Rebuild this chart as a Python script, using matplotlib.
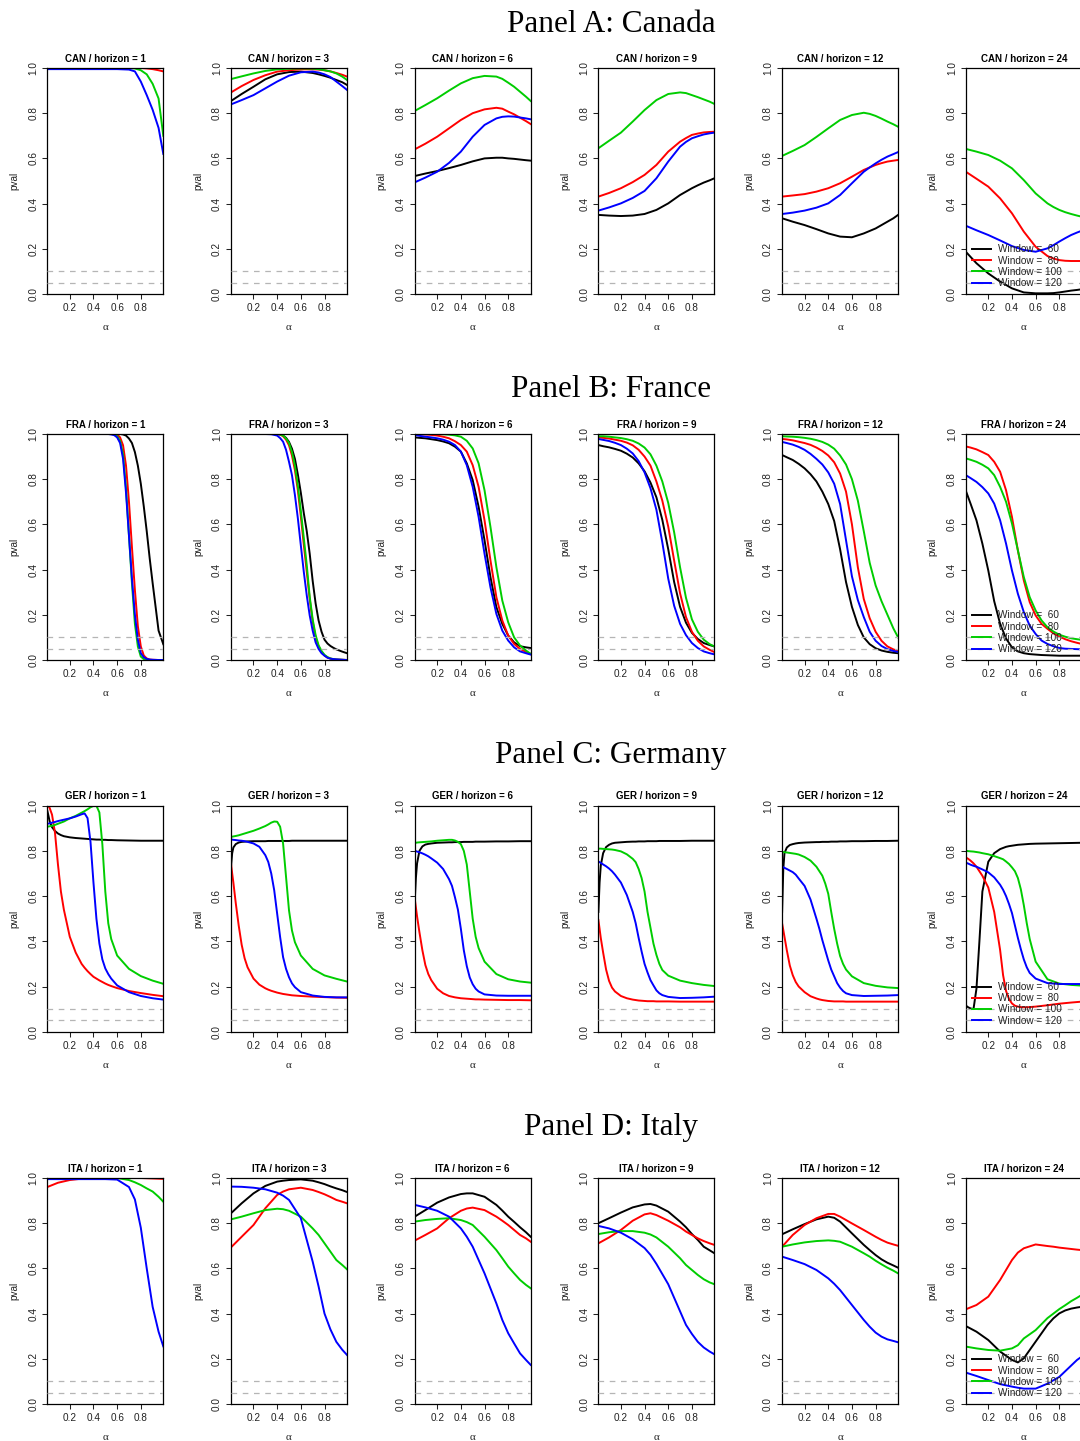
import matplotlib
matplotlib.use("Agg")
import matplotlib.pyplot as plt

# ---------------- data ----------------
WINDOWS = [60, 80, 100, 120]
LEG_LABELS = ["Window =  60", "Window =  80", "Window = 100", "Window = 120"]
HORIZONS = [1, 3, 6, 9, 12, 24]
XTICKS = [0.2, 0.4, 0.6, 0.8]
YTICKS = [0.0, 0.2, 0.4, 0.6, 0.8, 1.0]
YTICK_LABELS = ["0.0", "0.2", "0.4", "0.6", "0.8", "1.0"]
XTICK_LABELS = ["0.2", "0.4", "0.6", "0.8"]

ALPHA_A = [0.01, 0.1, 0.2, 0.3, 0.4, 0.5, 0.6, 0.7, 0.75, 0.8, 0.85, 0.9, 0.95, 0.99]
ALPHA_I = [0.01, 0.1, 0.2, 0.3, 0.4, 0.45, 0.5, 0.6, 0.7, 0.75, 0.8, 0.85, 0.9, 0.95, 0.99]
ALPHA_F = [0.01, 0.1, 0.2, 0.3, 0.35, 0.4, 0.425, 0.45, 0.475, 0.5, 0.525, 0.55, 0.575, 0.6,
           0.625, 0.65, 0.675, 0.7, 0.725, 0.75, 0.775, 0.8, 0.825, 0.85, 0.875, 0.9, 0.95, 0.99]
ALPHA_B = [0.01, 0.05, 0.1, 0.15, 0.2, 0.25, 0.3, 0.35, 0.4, 0.45, 0.5, 0.55, 0.6, 0.65,
           0.7, 0.75, 0.8, 0.85, 0.9, 0.95, 0.99]
ALPHA_G = [0.01, 0.02, 0.03, 0.05, 0.075, 0.1, 0.125, 0.15, 0.2, 0.25, 0.3, 0.325, 0.35,
           0.375, 0.4, 0.425, 0.45, 0.475, 0.5, 0.525, 0.55, 0.6, 0.7, 0.8, 0.9, 0.99]

# ---- Canada (ALPHA_A) : [w60, w80, w100, w120]
CAN_H1 = [
    [1, 1, 1, 1, 1, 1, 1, 1, 1, 1, 1, 1, 1, 1],
    [1, 1, 1, 1, 1, 1, 1, 1, 1, 1, 0.998, 0.995, 0.99, 0.985],
    [1, 1, 1, 1, 1, 1, 1, 1, 0.998, 0.99, 0.972, 0.93, 0.865, 0.70],
    [0.995, 0.995, 0.995, 0.995, 0.995, 0.995, 0.995, 0.993, 0.985, 0.94, 0.88, 0.815, 0.735, 0.62],
]
CAN_H3 = [
    [0.854, 0.885, 0.917, 0.95, 0.972, 0.982, 0.984, 0.978, 0.972, 0.965, 0.957, 0.947, 0.937, 0.925],
    [0.892, 0.92, 0.947, 0.968, 0.984, 0.99, 0.994, 0.994, 0.993, 0.99, 0.985, 0.978, 0.97, 0.962],
    [0.951, 0.963, 0.976, 0.987, 0.994, 0.997, 0.998, 0.997, 0.995, 0.99, 0.985, 0.976, 0.962, 0.947],
    [0.839, 0.858, 0.88, 0.91, 0.94, 0.966, 0.981, 0.984, 0.98, 0.972, 0.96, 0.94, 0.92, 0.903],
]
CAN_H6 = [
    [0.522, 0.533, 0.544, 0.557, 0.571, 0.587, 0.600, 0.603, 0.603, 0.600, 0.598, 0.595, 0.592, 0.590],
    [0.64, 0.665, 0.696, 0.733, 0.77, 0.80, 0.817, 0.824, 0.82, 0.807, 0.795, 0.78, 0.765, 0.752],
    [0.81, 0.836, 0.866, 0.90, 0.932, 0.955, 0.965, 0.962, 0.952, 0.935, 0.917, 0.895, 0.873, 0.854],
    [0.494, 0.515, 0.541, 0.58, 0.63, 0.696, 0.748, 0.777, 0.784, 0.786, 0.785, 0.781, 0.777, 0.773],
]
CAN_H9 = [
    [0.35, 0.347, 0.345, 0.347, 0.354, 0.372, 0.401, 0.438, 0.453, 0.468, 0.481, 0.493, 0.503, 0.512],
    [0.431, 0.447, 0.468, 0.495, 0.527, 0.571, 0.63, 0.674, 0.69, 0.704, 0.71, 0.715, 0.717, 0.718],
    [0.645, 0.678, 0.714, 0.763, 0.814, 0.858, 0.885, 0.892, 0.889, 0.88, 0.871, 0.861, 0.851, 0.841],
    [0.369, 0.383, 0.401, 0.425, 0.456, 0.512, 0.586, 0.652, 0.673, 0.689, 0.698, 0.706, 0.711, 0.714],
]
CAN_H12 = [
    [0.335, 0.32, 0.305, 0.287, 0.268, 0.254, 0.251, 0.268, 0.279, 0.29, 0.305, 0.32, 0.335, 0.35],
    [0.431, 0.436, 0.442, 0.453, 0.468, 0.49, 0.519, 0.549, 0.56, 0.571, 0.579, 0.586, 0.59, 0.593],
    [0.611, 0.633, 0.659, 0.695, 0.733, 0.77, 0.792, 0.802, 0.797, 0.788, 0.776, 0.763, 0.751, 0.74],
    [0.354, 0.36, 0.369, 0.382, 0.401, 0.438, 0.49, 0.541, 0.56, 0.578, 0.594, 0.608, 0.619, 0.628],
]
CAN_H24 = [
    [0.187, 0.136, 0.091, 0.055, 0.025, 0.007, 0.003, 0.003, 0.004, 0.007, 0.011, 0.015, 0.018, 0.021],
    [0.541, 0.51, 0.475, 0.423, 0.357, 0.276, 0.209, 0.168, 0.157, 0.15, 0.147, 0.146, 0.146, 0.146],
    [0.642, 0.63, 0.615, 0.59, 0.556, 0.504, 0.445, 0.401, 0.385, 0.372, 0.362, 0.354, 0.347, 0.342],
    [0.302, 0.282, 0.261, 0.237, 0.212, 0.195, 0.187, 0.202, 0.216, 0.232, 0.247, 0.261, 0.272, 0.28],
]

# ---- France
FRA_H1 = [  # ALPHA_F
    [1] * 14 + [1.0, 0.998, 0.993, 0.98, 0.96, 0.92, 0.86, 0.78, 0.68, 0.57, 0.45, 0.34, 0.13, 0.07],
    [1] * 13 + [0.998, 0.985, 0.95, 0.86, 0.70, 0.50, 0.31, 0.15, 0.06, 0.02, 0.007, 0.002, 0.001, 0.0, 0.0],
    [1] * 12 + [0.998, 0.99, 0.97, 0.91, 0.76, 0.55, 0.34, 0.16, 0.06, 0.015, 0.004, 0.001, 0.0, 0.0, 0.0, 0.0],
    [1] * 11 + [0.998, 0.995, 0.985, 0.96, 0.89, 0.74, 0.55, 0.36, 0.20, 0.09, 0.03, 0.012, 0.005, 0.002, 0.001, 0.0, 0.0],
]
FRA_H3 = [  # ALPHA_F
    [1, 1, 1, 1, 1, 1, 0.998, 0.993, 0.983, 0.965, 0.935, 0.89, 0.82, 0.74, 0.65, 0.57, 0.47, 0.35,
     0.25, 0.175, 0.125, 0.09, 0.073, 0.062, 0.054, 0.047, 0.037, 0.03],
    [1, 1, 1, 1, 1, 1, 0.998, 0.99, 0.975, 0.95, 0.905, 0.84, 0.75, 0.635, 0.51, 0.39, 0.27, 0.17,
     0.10, 0.06, 0.035, 0.02, 0.011, 0.006, 0.003, 0.002, 0.001, 0.0],
    [1, 1, 1, 1, 1, 1, 0.998, 0.993, 0.98, 0.96, 0.92, 0.86, 0.77, 0.66, 0.54, 0.42, 0.28, 0.18,
     0.11, 0.065, 0.04, 0.023, 0.013, 0.007, 0.004, 0.002, 0.001, 0.0],
    [1, 1, 1, 1, 0.999, 0.993, 0.982, 0.966, 0.93, 0.877, 0.818, 0.73, 0.626, 0.507, 0.39, 0.286,
     0.197, 0.13, 0.078, 0.049, 0.03, 0.019, 0.01, 0.006, 0.004, 0.003, 0.001, 0.0],
]
FRA_H6 = [  # ALPHA_B
    [0.985, 0.983, 0.981, 0.977, 0.973, 0.967, 0.959, 0.944, 0.922, 0.87, 0.796, 0.678, 0.53, 0.367,
     0.234, 0.16, 0.108, 0.078, 0.061, 0.056, 0.053],
    [1.0, 0.999, 0.998, 0.996, 0.993, 0.988, 0.981, 0.968, 0.951, 0.922, 0.862, 0.766, 0.618, 0.441,
     0.278, 0.175, 0.108, 0.071, 0.049, 0.036, 0.027],
    [1.0, 1.0, 1.0, 1.0, 1.0, 0.999, 0.997, 0.994, 0.988, 0.97, 0.936, 0.87, 0.751, 0.589, 0.411,
     0.263, 0.167, 0.10, 0.064, 0.042, 0.027],
    [0.996, 0.992, 0.988, 0.985, 0.981, 0.975, 0.966, 0.951, 0.922, 0.862, 0.766, 0.633, 0.47, 0.322,
     0.204, 0.13, 0.086, 0.056, 0.038, 0.03, 0.024],
]
FRA_H9 = [  # ALPHA_B
    [0.951, 0.946, 0.941, 0.934, 0.926, 0.913, 0.896, 0.87, 0.835, 0.785, 0.72, 0.62, 0.49, 0.345,
     0.235, 0.165, 0.12, 0.093, 0.075, 0.066, 0.06],
    [0.985, 0.983, 0.98, 0.975, 0.97, 0.962, 0.95, 0.93, 0.90, 0.86, 0.79, 0.705, 0.59, 0.44,
     0.295, 0.19, 0.125, 0.085, 0.06, 0.045, 0.035],
    [0.99, 0.99, 0.988, 0.985, 0.982, 0.977, 0.97, 0.958, 0.94, 0.91, 0.86, 0.79, 0.695, 0.565,
     0.41, 0.275, 0.18, 0.125, 0.09, 0.07, 0.06],
    [0.978, 0.974, 0.969, 0.961, 0.951, 0.935, 0.914, 0.88, 0.83, 0.76, 0.665, 0.52, 0.36, 0.24,
     0.16, 0.11, 0.075, 0.053, 0.038, 0.03, 0.025],
]
FRA_H12 = [  # ALPHA_B
    [0.907, 0.897, 0.885, 0.868, 0.848, 0.822, 0.79, 0.745, 0.69, 0.615, 0.49, 0.345, 0.235, 0.155,
     0.10, 0.07, 0.052, 0.042, 0.036, 0.032, 0.03],
    [0.978, 0.976, 0.972, 0.966, 0.96, 0.952, 0.94, 0.925, 0.905, 0.875, 0.825, 0.745, 0.60, 0.41,
     0.27, 0.185, 0.125, 0.085, 0.06, 0.047, 0.04],
    [0.99, 0.989, 0.988, 0.986, 0.983, 0.979, 0.973, 0.965, 0.953, 0.935, 0.905, 0.865, 0.80, 0.705,
     0.57, 0.43, 0.33, 0.26, 0.20, 0.14, 0.10],
    [0.965, 0.96, 0.953, 0.943, 0.93, 0.912, 0.89, 0.865, 0.83, 0.78, 0.69, 0.53, 0.37, 0.265,
     0.19, 0.125, 0.085, 0.062, 0.048, 0.04, 0.036],
]
FRA_H24 = [  # ALPHA_B
    [0.749, 0.692, 0.618, 0.515, 0.396, 0.26, 0.16, 0.095, 0.056, 0.038, 0.03, 0.026, 0.024, 0.022,
     0.021, 0.02, 0.019, 0.019, 0.019, 0.019, 0.019],
    [0.945, 0.94, 0.932, 0.92, 0.907, 0.877, 0.833, 0.751, 0.633, 0.485, 0.352, 0.256, 0.197, 0.16,
     0.138, 0.118, 0.104, 0.092, 0.083, 0.076, 0.071],
    [0.892, 0.886, 0.877, 0.864, 0.848, 0.818, 0.766, 0.70, 0.604, 0.485, 0.367, 0.278, 0.219, 0.175,
     0.145, 0.126, 0.112, 0.103, 0.096, 0.092, 0.089],
    [0.818, 0.805, 0.788, 0.765, 0.737, 0.692, 0.618, 0.515, 0.396, 0.293, 0.212, 0.152, 0.115, 0.086,
     0.071, 0.061, 0.053, 0.05, 0.049, 0.048, 0.047],
]

# ---- Germany (ALPHA_G)
GER_H1 = [
    [0.978, 0.955, 0.93, 0.905, 0.888, 0.877, 0.87, 0.865, 0.86, 0.857, 0.855, 0.854, 0.853, 0.852,
     0.851, 0.85, 0.85, 0.849, 0.849, 0.848, 0.848, 0.847, 0.846, 0.845, 0.845, 0.845],
    [1.0, 0.998, 0.99, 0.96, 0.88, 0.74, 0.62, 0.54, 0.42, 0.35, 0.30, 0.283, 0.268, 0.255, 0.243,
     0.235, 0.227, 0.22, 0.213, 0.207, 0.202, 0.193, 0.18, 0.171, 0.163, 0.157],
    [0.907, 0.908, 0.909, 0.911, 0.915, 0.92, 0.925, 0.93, 0.944, 0.955, 0.969, 0.976, 0.984, 0.993,
     0.999, 1.0, 0.97, 0.83, 0.62, 0.48, 0.41, 0.337, 0.278, 0.246, 0.226, 0.212],
    [0.92, 0.921, 0.922, 0.925, 0.928, 0.932, 0.935, 0.938, 0.944, 0.952, 0.962, 0.966, 0.945, 0.84,
     0.66, 0.50, 0.39, 0.32, 0.28, 0.255, 0.235, 0.205, 0.175, 0.158, 0.148, 0.142],
]
GER_H3 = [
    [0.73, 0.79, 0.815, 0.83, 0.837, 0.84, 0.841, 0.842, 0.843, 0.843, 0.843, 0.844, 0.844, 0.844,
     0.844, 0.844, 0.844, 0.844, 0.844, 0.845, 0.845, 0.845, 0.845, 0.845, 0.845, 0.845],
    [0.745, 0.70, 0.66, 0.57, 0.47, 0.385, 0.325, 0.285, 0.235, 0.208, 0.192, 0.186, 0.181, 0.177,
     0.173, 0.17, 0.167, 0.165, 0.163, 0.161, 0.16, 0.158, 0.155, 0.153, 0.151, 0.15],
    [0.862, 0.863, 0.864, 0.866, 0.869, 0.873, 0.877, 0.881, 0.889, 0.899, 0.91, 0.917, 0.925, 0.93,
     0.929, 0.907, 0.833, 0.685, 0.537, 0.448, 0.396, 0.337, 0.278, 0.249, 0.234, 0.222],
    [0.851, 0.85, 0.849, 0.848, 0.846, 0.845, 0.843, 0.84, 0.833, 0.818, 0.781, 0.751, 0.70, 0.626,
     0.522, 0.419, 0.33, 0.278, 0.241, 0.214, 0.197, 0.175, 0.16, 0.154, 0.152, 0.152],
]
GER_H6 = [
    [0.575, 0.68, 0.745, 0.80, 0.82, 0.828, 0.831, 0.833, 0.836, 0.837, 0.838, 0.838, 0.839, 0.839,
     0.839, 0.84, 0.84, 0.84, 0.84, 0.841, 0.841, 0.841, 0.842, 0.842, 0.843, 0.843],
    [0.59, 0.55, 0.51, 0.44, 0.36, 0.295, 0.255, 0.228, 0.19, 0.17, 0.158, 0.155, 0.152, 0.15,
     0.148, 0.147, 0.146, 0.145, 0.144, 0.143, 0.143, 0.142, 0.141, 0.14, 0.14, 0.139],
    [0.836, 0.836, 0.837, 0.838, 0.839, 0.84, 0.841, 0.842, 0.845, 0.847, 0.849, 0.849, 0.846, 0.84,
     0.83, 0.80, 0.74, 0.62, 0.50, 0.42, 0.37, 0.31, 0.255, 0.232, 0.222, 0.217],
    [0.80, 0.799, 0.797, 0.794, 0.789, 0.783, 0.776, 0.767, 0.748, 0.72, 0.675, 0.645, 0.595, 0.54,
     0.455, 0.36, 0.29, 0.24, 0.21, 0.19, 0.178, 0.165, 0.16, 0.159, 0.159, 0.159],
]
GER_H9 = [
    [0.53, 0.66, 0.735, 0.79, 0.817, 0.827, 0.833, 0.836, 0.838, 0.84, 0.841, 0.841, 0.842, 0.842,
     0.842, 0.843, 0.843, 0.843, 0.843, 0.844, 0.844, 0.844, 0.844, 0.845, 0.845, 0.845],
    [0.494, 0.455, 0.415, 0.35, 0.275, 0.225, 0.195, 0.178, 0.158, 0.148, 0.142, 0.14, 0.138, 0.137,
     0.136, 0.135, 0.135, 0.135, 0.134, 0.134, 0.134, 0.134, 0.133, 0.133, 0.133, 0.133],
    [0.81, 0.81, 0.81, 0.809, 0.808, 0.807, 0.806, 0.804, 0.798, 0.785, 0.765, 0.75, 0.72, 0.68,
     0.62, 0.53, 0.46, 0.39, 0.34, 0.30, 0.273, 0.248, 0.226, 0.215, 0.207, 0.202],
    [0.753, 0.75, 0.747, 0.74, 0.732, 0.722, 0.71, 0.695, 0.66, 0.605, 0.53, 0.48, 0.415, 0.355,
     0.30, 0.262, 0.228, 0.205, 0.183, 0.17, 0.162, 0.154, 0.149, 0.15, 0.152, 0.155],
]
GER_H12 = [
    [0.53, 0.72, 0.79, 0.815, 0.826, 0.83, 0.833, 0.835, 0.837, 0.838, 0.839, 0.839, 0.84, 0.84,
     0.84, 0.841, 0.841, 0.841, 0.842, 0.842, 0.842, 0.843, 0.843, 0.844, 0.844, 0.845],
    [0.479, 0.45, 0.42, 0.36, 0.293, 0.25, 0.22, 0.20, 0.175, 0.157, 0.147, 0.143, 0.14, 0.138,
     0.136, 0.135, 0.134, 0.134, 0.134, 0.134, 0.133, 0.133, 0.133, 0.133, 0.133, 0.133],
    [0.795, 0.795, 0.794, 0.793, 0.791, 0.789, 0.787, 0.784, 0.773, 0.757, 0.73, 0.71, 0.69, 0.655,
     0.61, 0.53, 0.455, 0.39, 0.335, 0.30, 0.275, 0.245, 0.215, 0.203, 0.196, 0.193],
    [0.73, 0.728, 0.725, 0.72, 0.713, 0.706, 0.695, 0.678, 0.645, 0.585, 0.50, 0.455, 0.405, 0.36,
     0.315, 0.275, 0.245, 0.215, 0.195, 0.18, 0.17, 0.162, 0.158, 0.159, 0.16, 0.162],
]
GER_H24 = [
    [0.115, 0.112, 0.108, 0.103, 0.10, 0.19, 0.40, 0.62, 0.752, 0.79, 0.808, 0.813, 0.818, 0.821,
     0.823, 0.825, 0.827, 0.828, 0.829, 0.83, 0.831, 0.832, 0.833, 0.834, 0.835, 0.836],
    [0.771, 0.768, 0.765, 0.757, 0.745, 0.73, 0.71, 0.69, 0.638, 0.53, 0.361, 0.25, 0.18, 0.145,
     0.125, 0.115, 0.111, 0.109, 0.108, 0.108, 0.109, 0.111, 0.117, 0.124, 0.129, 0.133],
    [0.80, 0.80, 0.799, 0.798, 0.797, 0.795, 0.793, 0.79, 0.785, 0.777, 0.768, 0.763, 0.753, 0.742,
     0.727, 0.71, 0.68, 0.63, 0.56, 0.48, 0.41, 0.31, 0.232, 0.213, 0.207, 0.204],
    [0.748, 0.746, 0.744, 0.739, 0.734, 0.73, 0.724, 0.718, 0.705, 0.683, 0.65, 0.628, 0.60, 0.565,
     0.525, 0.47, 0.415, 0.365, 0.32, 0.285, 0.26, 0.235, 0.215, 0.211, 0.211, 0.211],
]

# ---- Italy (ALPHA_I)
ITA_H1 = [
    [1, 1, 1, 1, 1, 1, 1, 1, 1, 1, 1, 1, 1, 1, 1],
    [0.96, 0.979, 0.991, 0.997, 1, 1, 1, 1, 1, 1, 1, 0.999, 0.998, 0.997, 0.996],
    [1, 1, 1, 1, 1, 1, 1, 1, 0.991, 0.981, 0.969, 0.954, 0.94, 0.917, 0.895],
    [0.995, 0.995, 0.995, 0.995, 0.995, 0.995, 0.995, 0.993, 0.96, 0.905, 0.78, 0.60, 0.43, 0.32, 0.255],
]
ITA_H3 = [
    [0.844, 0.888, 0.932, 0.965, 0.984, 0.988, 0.991, 0.994, 0.988, 0.981, 0.973, 0.963, 0.954, 0.946, 0.938],
    [0.693, 0.74, 0.792, 0.866, 0.925, 0.94, 0.95, 0.957, 0.947, 0.938, 0.928, 0.916, 0.903, 0.895, 0.888],
    [0.817, 0.829, 0.844, 0.858, 0.864, 0.862, 0.855, 0.829, 0.777, 0.748, 0.711, 0.674, 0.637, 0.615, 0.596],
    [0.962, 0.961, 0.957, 0.95, 0.935, 0.922, 0.903, 0.822, 0.63, 0.52, 0.40, 0.33, 0.275, 0.24, 0.217],
]
ITA_H6 = [
    [0.829, 0.858, 0.891, 0.914, 0.929, 0.932, 0.932, 0.917, 0.881, 0.856, 0.829, 0.806, 0.782, 0.76, 0.74],
    [0.723, 0.748, 0.777, 0.822, 0.855, 0.865, 0.869, 0.858, 0.829, 0.811, 0.792, 0.77, 0.748, 0.733, 0.718],
    [0.807, 0.814, 0.819, 0.822, 0.814, 0.805, 0.792, 0.74, 0.681, 0.645, 0.608, 0.578, 0.549, 0.527, 0.512],
    [0.881, 0.87, 0.855, 0.829, 0.777, 0.74, 0.696, 0.578, 0.445, 0.372, 0.313, 0.268, 0.224, 0.195, 0.173],
]
ITA_H9 = [
    [0.80, 0.822, 0.847, 0.87, 0.883, 0.885, 0.878, 0.851, 0.807, 0.782, 0.752, 0.726, 0.696, 0.68, 0.667],
    [0.711, 0.737, 0.77, 0.811, 0.839, 0.844, 0.836, 0.811, 0.782, 0.763, 0.748, 0.733, 0.721, 0.711, 0.704],
    [0.752, 0.76, 0.765, 0.765, 0.758, 0.75, 0.737, 0.696, 0.645, 0.615, 0.593, 0.571, 0.552, 0.538, 0.53],
    [0.788, 0.777, 0.758, 0.729, 0.69, 0.66, 0.62, 0.53, 0.41, 0.35, 0.31, 0.275, 0.25, 0.232, 0.22],
]
ITA_H12 = [
    [0.751, 0.773, 0.796, 0.817, 0.829, 0.824, 0.807, 0.755, 0.704, 0.681, 0.659, 0.64, 0.625, 0.613, 0.603],
    [0.696, 0.748, 0.792, 0.822, 0.841, 0.841, 0.829, 0.799, 0.77, 0.755, 0.74, 0.726, 0.714, 0.706, 0.70],
    [0.696, 0.706, 0.715, 0.721, 0.724, 0.722, 0.718, 0.696, 0.667, 0.652, 0.634, 0.618, 0.603, 0.59, 0.578],
    [0.652, 0.637, 0.619, 0.593, 0.556, 0.532, 0.504, 0.438, 0.372, 0.342, 0.316, 0.298, 0.286, 0.279, 0.273],
]
ITA_H24 = [
    [0.345, 0.32, 0.283, 0.232, 0.195, 0.184, 0.202, 0.276, 0.35, 0.379, 0.401, 0.414, 0.422, 0.427, 0.43],
    [0.419, 0.438, 0.475, 0.549, 0.637, 0.67, 0.689, 0.706, 0.699, 0.696, 0.692, 0.689, 0.686, 0.683, 0.681],
    [0.254, 0.246, 0.239, 0.236, 0.246, 0.26, 0.29, 0.327, 0.38, 0.40, 0.42, 0.437, 0.455, 0.47, 0.483],
    [0.139, 0.124, 0.106, 0.088, 0.077, 0.072, 0.068, 0.068, 0.09, 0.105, 0.12, 0.145, 0.17, 0.195, 0.21],
]

PANEL_TITLES = ["Panel A: Canada", "Panel B: France", "Panel C: Germany", "Panel D: Italy"]
CODES = ["CAN", "FRA", "GER", "ITA"]
GRIDS = [
    [ALPHA_A] * 6,
    [ALPHA_F, ALPHA_F, ALPHA_B, ALPHA_B, ALPHA_B, ALPHA_B],
    [ALPHA_G] * 6,
    [ALPHA_I] * 6,
]
SERIES = [
    [CAN_H1, CAN_H3, CAN_H6, CAN_H9, CAN_H12, CAN_H24],
    [FRA_H1, FRA_H3, FRA_H6, FRA_H9, FRA_H12, FRA_H24],
    [GER_H1, GER_H3, GER_H6, GER_H9, GER_H12, GER_H24],
    [ITA_H1, ITA_H3, ITA_H6, ITA_H9, ITA_H12, ITA_H24],
]
COLORS = ["#000000", "#FF0000", "#00CD00", "#0000FF"]
REF_LEVELS = [0.05, 0.10]

# ---------------- layout ----------------
W, H = 1080, 1441
AX_W, AX_H = 116.0, 226.0
COL_LEFT = [47.3 + i * 183.7 for i in range(6)]
ROW_TOP = [68.0, 434.0, 805.7, 1178.0]
PANEL_TITLE_Y = [24.5, 389.5, 755.5, 1127.5]
TITLE_X = 611.0

plt.rcParams["font.family"] = ["Liberation Sans", "DejaVu Sans"]
fig = plt.figure(figsize=(W / 100, H / 100), dpi=100)
fig.patch.set_facecolor("white")

for r in range(4):
    fig.text(TITLE_X / W, 1 - PANEL_TITLE_Y[r] / H, PANEL_TITLES[r],
             ha="center", va="center", fontsize=22.5,
             family=["Liberation Serif", "DejaVu Serif"])
    top = ROW_TOP[r]
    for c in range(6):
        left = COL_LEFT[c]
        ax = fig.add_axes([left / W, 1 - (top + AX_H) / H, AX_W / W, AX_H / H])
        alpha = GRIDS[r][c]
        lines = []
        for k in range(4):
            ln, = ax.plot(alpha, SERIES[r][c][k], color=COLORS[k], lw=1.4,
                          label=LEG_LABELS[k], zorder=2)
            lines.append(ln)
        for lev in REF_LEVELS:
            ax.axhline(lev, color="#b5b5b5", lw=0.9, ls=(0, (4.5, 4.5)), zorder=3)
        ax.set_xlim(0.01, 0.99)
        ax.set_ylim(0, 1)
        ax.set_xticks(XTICKS)
        ax.set_xticklabels(XTICK_LABELS)
        ax.set_yticks(YTICKS)
        ax.set_yticklabels(YTICK_LABELS, rotation=90, va="center")
        ax.tick_params(direction="out", length=3.3, width=0.75, pad=3.2,
                       labelsize=7.2, colors="#222222")
        for sp in ax.spines.values():
            sp.set_linewidth(0.9)
            sp.set_color("black")
        ax.text(0.5, 1 + 9.5 / AX_H, "%s / horizon = %d" % (CODES[r], HORIZONS[c]),
                transform=ax.transAxes, ha="center", va="center",
                fontsize=7.0, fontweight="bold")
        ax.text(-33.0 / AX_W, 0.5, "pval", transform=ax.transAxes, rotation=90,
                ha="center", va="center", fontsize=7.2, color="#222222")
        ax.text(0.5, -33.5 / AX_H, "\u03b1", transform=ax.transAxes,
                ha="center", va="center", fontsize=8.0, color="#222222",
                family=["Liberation Serif", "DejaVu Serif"])
        if c == 5:
            ax.legend(handles=lines, loc="lower left", frameon=False,
                      fontsize=7.2, handlelength=1.9, handletextpad=0.75,
                      labelspacing=0.12, borderpad=0.45, borderaxespad=0.15,
                      labelcolor="#222222")

fig.savefig("out.png", dpi=100, facecolor="white")
